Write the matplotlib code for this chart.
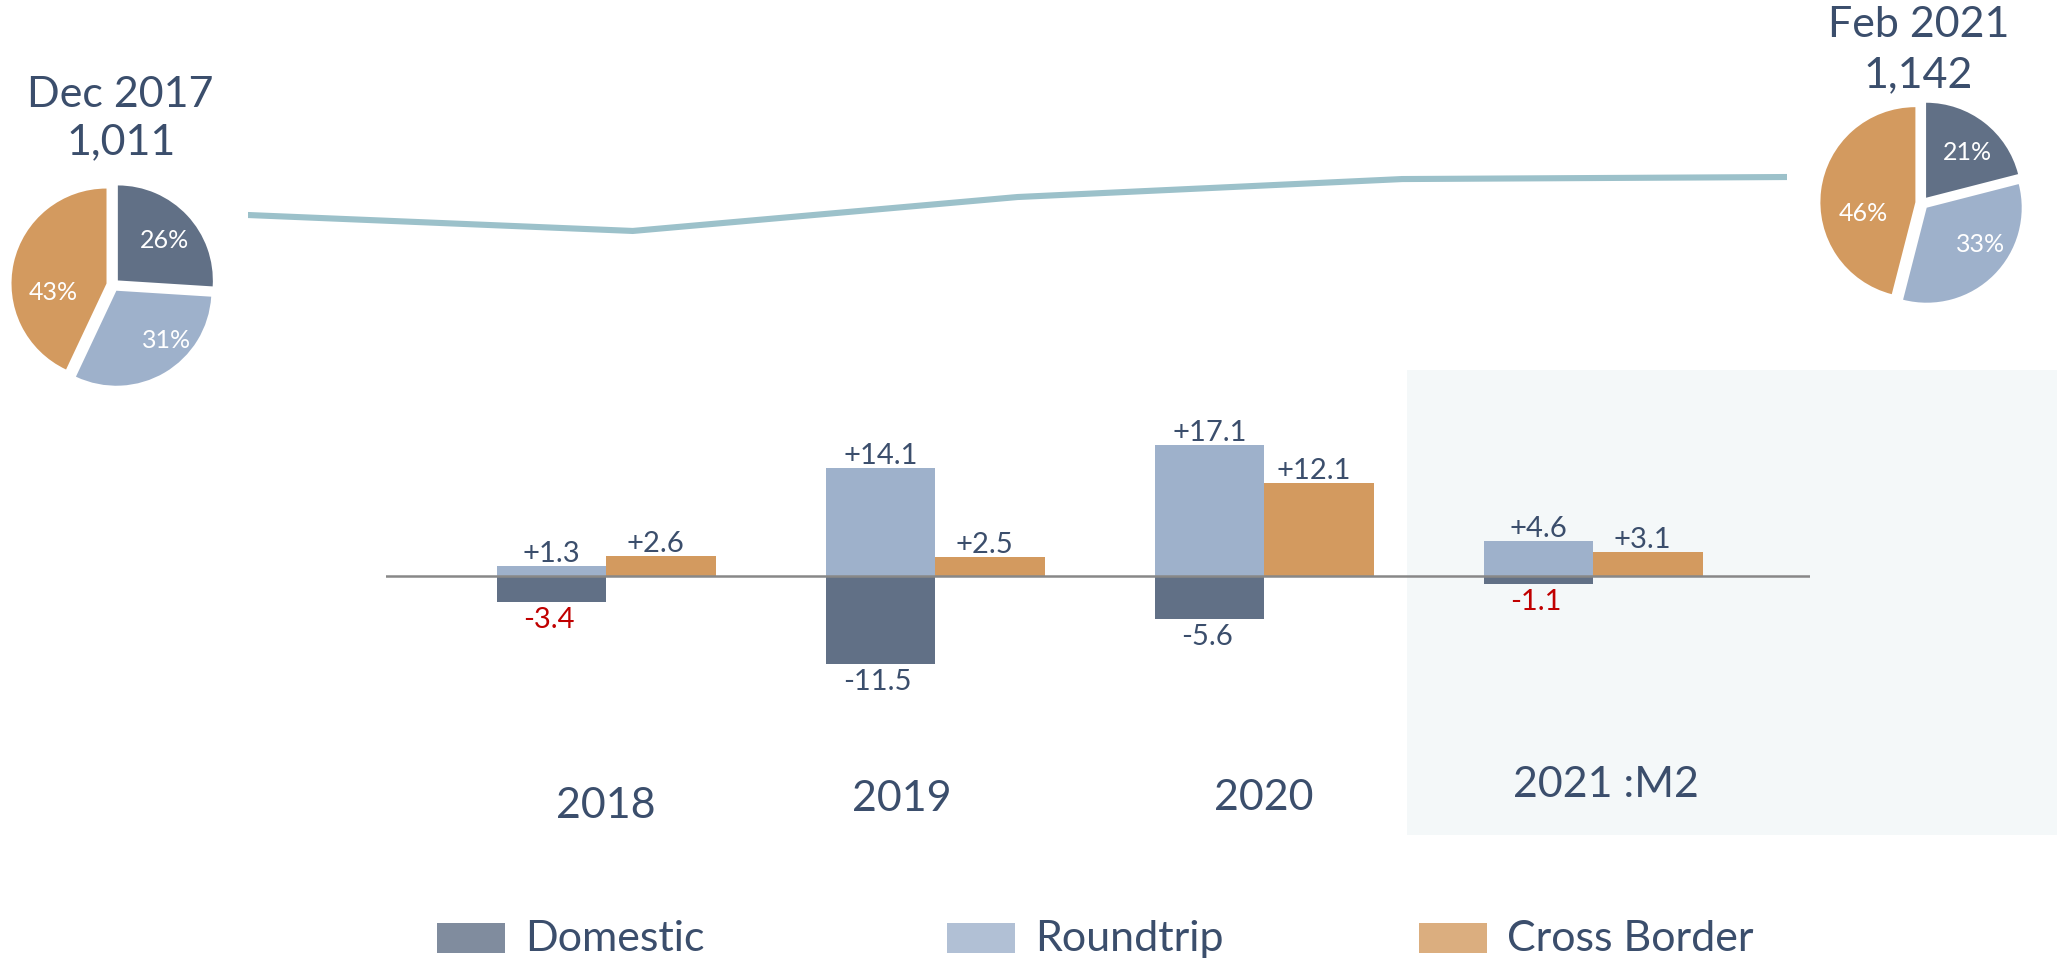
import numpy as np
import matplotlib

matplotlib.use("Agg")
import matplotlib.pyplot as plt
from matplotlib.patches import Rectangle

plt.rcParams["font.family"] = ["Lato", "DejaVu Sans"]

# ---- data ----
periods = ["2018", "2019", "2020", "2021 :M2"]
domestic = [-3.4, -11.5, -5.6, -1.1]
roundtrip = [1.3, 14.1, 17.1, 4.6]
cross_border = [2.6, 2.5, 12.1, 3.1]
series_names = ["Domestic", "Roundtrip", "Cross Border"]

total_values = [1011, 956, 1073, 1135, 1142]

start_title = "Dec 2017"
start_total = "1,011"
start_shares = [26, 31, 43]
end_title = "Feb 2021"
end_total = "1,142"
end_shares = [21, 33, 46]

# ---- style ----
W, H = 2057, 962
DPI = 100
NAVY = "#3B4E6C"
RED = "#C00000"
COLORS = ["#617086", "#9EB1CB", "#D39A5F"]
LINE_COLOR = "#9CC1CA"
SHADE = "#F4F8F9"
domestic_label_colors = [RED, NAVY, NAVY, RED]


def px_rect(x0, y0, x1, y1):
    return [x0 / W, 1 - y1 / H, (x1 - x0) / W, (y1 - y0) / H]


fig = plt.figure(figsize=(W / DPI, H / DPI), dpi=DPI)

# shaded highlight behind the latest period
fig.add_artist(Rectangle((1407 / W, 1 - 836 / H), (W - 1407) / W, (836 - 371) / H,
                         transform=fig.transFigure, color=SHADE, zorder=-5, lw=0))

# ---- bars ----
ax = fig.add_axes(px_rect(386, 371, 1810, 836))
ax.patch.set_visible(False)
x = np.arange(len(periods))
bw = 0.333
ax.bar(x - bw / 2, domestic, bw, color=COLORS[0], zorder=2)
ax.bar(x - bw / 2, roundtrip, bw, color=COLORS[1], zorder=2)
ax.bar(x + bw / 2, cross_border, bw, color=COLORS[2], zorder=2)
ax.axhline(0, color="#888888", lw=1.8, zorder=3)
ax.set_xlim(-0.669, 3.659)
ax.set_ylim(-33.9, 26.9)
ax.axis("off")

for i in range(len(periods)):
    ax.annotate(f"+{roundtrip[i]:.1f}", (x[i] - bw / 2, roundtrip[i]), xytext=(0, 0),
                textcoords="offset points", ha="center", va="bottom", fontsize=21, color=NAVY)
    ax.annotate(f"+{cross_border[i]:.1f}", (x[i] + bw / 2, cross_border[i]), xytext=(-4, 0),
                textcoords="offset points", ha="center", va="bottom", fontsize=21, color=NAVY)
    ax.annotate(f"{domestic[i]:.1f}", (x[i] - bw / 2, domestic[i]), xytext=(-2, -3),
                textcoords="offset points", ha="center", va="top", fontsize=21,
                color=domestic_label_colors[i])

label_dx = [0.0, -0.1, 0.0, 0.04]
label_y = [0.064, 0.080, 0.082, 0.11]
for i, name in enumerate(periods):
    ax.text(x[i] + label_dx[i], label_y[i], name, transform=ax.get_xaxis_transform(),
            ha="center", va="center", fontsize=31, color=NAVY)

# ---- total line ----
lax = fig.add_axes(px_rect(248, 150, 1787, 260))
lax.plot(range(len(total_values)), total_values, color=LINE_COLOR, lw=4.4,
         solid_capstyle="round", solid_joinstyle="round")
lax.set_xlim(0, len(total_values) - 1)
lax.set_ylim(859.3, 1238.6)
lax.axis("off")


# ---- pies ----
def draw_pie(cx, cy, shares, label_pos):
    r = 95
    h = 1.25 * r
    pax = fig.add_axes(px_rect(cx - h, cy - h, cx + h, cy + h))
    pax.pie(shares, colors=COLORS, startangle=90, counterclock=False,
            explode=[0.07] * len(shares), radius=1, wedgeprops=dict(linewidth=0))
    for s, (ang, dist) in zip(shares, label_pos):
        a = np.deg2rad(ang)
        pax.text(dist * np.cos(a), dist * np.sin(a), f"{s}%", ha="center", va="center",
                 fontsize=18, color="white")
    pax.set_xlim(-1.25, 1.25)
    pax.set_ylim(-1.25, 1.25)
    pax.set_aspect("equal")
    pax.axis("off")


draw_pie(113, 286, start_shares, [(41.5, 0.73), (-45.5, 0.80), (186, 0.63)])
draw_pie(1922, 204, end_shares, [(48.6, 0.72), (-35, 0.75), (189, 0.63)])

fig.text(120 / W, 1 - 95 / H, start_title, ha="center", va="center", fontsize=31, color=NAVY)
fig.text(121 / W, 1 - 142 / H, start_total, ha="center", va="center", fontsize=31, color=NAVY)
fig.text(1919 / W, 1 - 25 / H, end_title, ha="center", va="center", fontsize=31, color=NAVY)
fig.text(1918 / W, 1 - 75 / H, end_total, ha="center", va="center", fontsize=31, color=NAVY)

# ---- legend ----
legend_x = [437, 947, 1419]
for name, color, lx in zip(series_names, COLORS, legend_x):
    fig.add_artist(Rectangle((lx / W, 1 - 954 / H), 68 / W, 30 / H, transform=fig.transFigure,
                             color=color, alpha=0.8, lw=0))
    fig.text((lx + 88) / W, 1 - 939 / H, name, ha="left", va="center", fontsize=31, color=NAVY)

fig.savefig("out.png", dpi=DPI)
